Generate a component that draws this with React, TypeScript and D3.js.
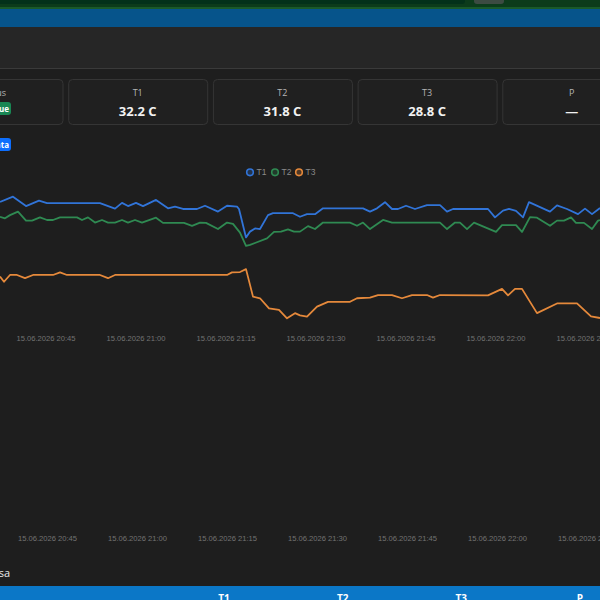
import React from "react";
import * as d3 from "d3";

const DAY = "2026-06-15";
const X_START = "20:37:20";
const X_END = "22:17:20";
const TICK_STEP_MIN = 15;
const Y_DOMAIN = [28.5, 33.1];

const seriesNames = ["T1", "T2", "T3"];
const seriesColors = ["#3174d8", "#2f8a52", "#e5893b"];

const t1Times = ["20:37:20","20:39:30","20:41:40","20:43:50","20:45:10","20:54:00","20:56:30","20:57:40","20:58:40","21:00:00","21:01:10","21:03:20","21:05:20","21:06:30","21:07:50","21:10:10","21:11:30","21:13:40","21:15:10","21:16:50","21:17:10","21:18:20","21:19:00","21:19:50","21:20:40","21:22:00","21:22:50","21:26:10","21:27:20","21:28:30","21:29:50","21:31:10","21:37:50","21:39:00","21:40:10","21:41:30","21:42:40","21:43:40","21:45:00","21:46:30","21:48:30","21:50:40","21:51:50","21:52:50","21:58:40","21:59:50","22:01:10","22:02:10","22:03:20","22:04:30","22:05:30","22:09:00","22:10:10","22:11:50","22:13:40","22:14:50","22:16:00","22:17:20"];
const t1Values = [32.39,32.55,32.26,32.43,32.35,32.35,32.18,32.36,32.26,32.36,32.26,32.45,32.19,32.24,32.17,32.17,32.27,32.09,32.27,32.24,32.17,31.29,31.47,31.57,31.55,31.98,32.04,32.04,31.93,32.01,32.01,32.19,32.19,32.09,32.19,32.38,32.17,32.17,32.27,32.17,32.29,32.29,32.09,32.17,32.17,31.91,32.12,32.17,32.11,31.91,32.38,32.09,32.28,32.17,32.01,32.18,32.01,32.2];

const t2Times = ["20:37:20","20:38:10","20:39:00","20:40:20","20:41:40","20:42:40","20:44:00","20:45:10","20:46:10","20:47:20","20:50:10","20:51:00","20:52:00","20:53:10","20:54:20","20:55:20","20:56:30","20:57:40","20:58:40","20:59:50","21:01:00","21:03:20","21:04:30","21:08:00","21:09:20","21:10:40","21:11:40","21:13:40","21:15:10","21:16:10","21:17:20","21:18:20","21:19:00","21:21:50","21:23:00","21:24:10","21:25:20","21:26:20","21:27:20","21:28:40","21:29:50","21:31:10","21:35:40","21:36:50","21:37:50","21:39:00","21:41:10","21:42:40","21:50:40","21:51:50","21:53:10","21:54:00","21:55:10","21:56:20","22:00:00","22:01:00","22:03:20","22:04:20","22:05:40","22:06:50","22:09:00","22:10:10","22:11:20","22:12:30","22:13:20","22:14:40","22:16:00","22:17:00","22:17:20"];
const t2Values = [31.93,31.88,31.98,32.09,31.81,31.81,31.91,31.83,31.83,31.91,31.91,31.83,31.91,31.75,31.83,31.75,31.75,31.83,31.75,31.83,31.75,31.9,31.74,31.74,31.65,31.75,31.74,31.55,31.75,31.71,31.44,31.03,31.06,31.26,31.46,31.47,31.54,31.47,31.47,31.64,31.55,31.75,31.75,31.65,31.75,31.55,31.83,31.75,31.75,31.55,31.75,31.75,31.55,31.75,31.46,31.67,31.67,31.46,31.92,31.9,31.65,31.81,31.81,31.91,31.74,31.74,31.55,31.81,31.83];

const t3Times = ["20:37:20","20:38:00","20:39:00","20:40:10","20:41:30","20:42:50","20:46:10","20:47:20","20:48:30","20:54:00","20:55:20","20:56:30","21:15:10","21:16:00","21:17:20","21:18:20","21:19:30","21:20:40","21:22:10","21:23:50","21:25:10","21:26:30","21:27:20","21:28:30","21:30:10","21:32:00","21:35:40","21:36:50","21:39:00","21:40:20","21:42:40","21:44:20","21:46:00","21:48:30","21:49:30","21:50:40","21:58:40","22:01:00","22:02:00","22:03:10","22:04:20","22:06:50","22:10:10","22:13:30","22:15:50","22:17:20"];
const t3Values = [30.08,29.92,30.13,30.13,30.03,30.13,30.13,30.21,30.13,30.13,30.03,30.13,30.13,30.21,30.22,30.31,29.46,29.41,29.1,29.05,28.79,28.95,28.88,28.84,29.15,29.3,29.3,29.41,29.43,29.51,29.51,29.41,29.51,29.51,29.43,29.51,29.5,29.7,29.5,29.7,29.7,28.95,29.25,29.25,28.85,28.8];

const cardLabels = ["Status", "T1", "T2", "T3", "P"];
const cardValues = ["", "32.2 C", "31.8 C", "28.8 C", "—"];
const statusBadge = "True";
const dataBadge = "Data";
const sectionTitle = "Kasa";
const tableHeaders = ["T1", "T2", "T3", "P"];

const parse = d3.timeParse("%Y-%m-%d %H:%M:%S");
const toDate = (s: string) => parse(`${DAY} ${s}`) as Date;

const seriesTimes = [t1Times, t2Times, t3Times];
const seriesValues = [t1Values, t2Values, t3Values];

export default function App() {
  const W = 600;
  const H = 600;
  const x = d3.scaleTime().domain([toDate(X_START), toDate(X_END)]).range([0, W]);
  const y = d3.scaleLinear().domain(Y_DOMAIN).range([327.7, 178.9]);
  const ticks = x.ticks(d3.timeMinute.every(TICK_STEP_MIN) as any);
  const fmt = d3.timeFormat("%d.%m.%Y %H:%M");
  const line = d3
    .line<{ t: Date; v: number }>()
    .x((d) => x(d.t))
    .y((d) => y(d.v));

  const series = seriesNames.map((name, i) => ({
    name,
    color: seriesColors[i],
    points: seriesTimes[i].map((t, j) => ({ t: toDate(t), v: seriesValues[i][j] })),
  }));

  const cardX = d3.scaleLinear().domain([0, 1]).range([-76.5, 68.2]);
  const cardW = 139;
  const tableX = d3.scalePoint().domain(tableHeaders).range([224, 580]);
  const legendX = [250, 275, 299];
  const uiFont = "'Open Sans', 'Noto Sans', sans-serif";
  const axisFont = "'Liberation Sans', Arial, sans-serif";

  return (
    <svg
      width={W}
      height={H}
      viewBox={`0 0 ${W} ${H}`}
      style={{ position: "absolute", left: 0, top: 0, display: "block" }}
    >
      <rect x={0} y={0} width={W} height={H} fill="#1e1e1e" />
      {/* top green bar */}
      <rect x={0} y={0} width={W} height={9} fill="#0c3b1b" />
      <rect x={-10} y={-6} width={475} height={10} rx={3} fill="#03311a" />
      <rect x={474} y={-6} width={30} height={10} rx={3} fill="#3c4b42" />
      <rect x={0} y={7} width={W} height={2} fill="#1a5a2a" />
      {/* blue bar */}
      <rect x={0} y={9} width={W} height={18} fill="#06548b" />
      {/* header */}
      <rect x={0} y={27} width={W} height={41} fill="#262626" />
      <rect x={0} y={68} width={W} height={1} fill="#3a3a3a" />

      {/* cards */}
      {cardLabels.map((lab, i) => {
        const cx = cardX(i);
        return (
          <g key={lab}>
            <rect x={cx + 0.5} y={79.5} width={cardW} height={45} rx={4} fill="#202020" stroke="#353535" />
            <text x={cx + cardW / 2} y={96} textAnchor="middle" fill="#b5b5b5" fontSize={9} fontFamily={uiFont}>
              {lab}
            </text>
            {cardValues[i] && (
              <text x={cx + cardW / 2} y={115.5} textAnchor="middle" fill="#f2f2f2" fontSize={13} fontWeight="bold" fontFamily={uiFont}>
                {cardValues[i]}
              </text>
            )}
          </g>
        );
      })}
      {/* status badge */}
      <rect x={-20} y={102} width={31} height={13} rx={3} fill="#198754" />
      <text x={9} y={111.5} textAnchor="end" fill="#fff" fontSize={8} fontWeight="bold" fontFamily={uiFont}>
        {statusBadge}
      </text>
      {/* data badge */}
      <rect x={-20} y={138} width={31} height={13} rx={3} fill="#0d6efd" />
      <text x={9} y={147.5} textAnchor="end" fill="#fff" fontSize={8} fontWeight="bold" fontFamily={uiFont}>
        {dataBadge}
      </text>

      {/* legend */}
      {series.map((s, i) => (
        <g key={s.name}>
          <circle cx={legendX[i]} cy={172.3} r={3.3} fill={s.color} fillOpacity={0.25} stroke={s.color} strokeWidth={1.6} />
          <text x={legendX[i] + 6.5} y={175.3} fill="#8a8a8a" fontSize={8.5} fontFamily={axisFont}>
            {s.name}
          </text>
        </g>
      ))}

      {/* lines */}
      {series.map((s) => (
        <path key={s.name} d={line(s.points) || ""} fill="none" stroke={s.color} strokeWidth={1.8} strokeLinejoin="round" />
      ))}

      {/* x axis labels chart 1 */}
      {ticks.map((t) => (
        <text key={"a" + t.getTime()} x={x(t)} y={340.7} textAnchor="middle" fill="#737373" fontSize={7.6} fontFamily={axisFont}>
          {fmt(t)}
        </text>
      ))}
      {/* x axis labels chart 2 */}
      {ticks.map((t) => (
        <text key={"b" + t.getTime()} x={x(t) + 1.5} y={540.7} textAnchor="middle" fill="#737373" fontSize={7.6} fontFamily={axisFont}>
          {fmt(t)}
        </text>
      ))}

      {/* section title */}
      <text x={10} y={577} textAnchor="end" fill="#eaeaea" fontSize={11} fontFamily={uiFont}>
        {sectionTitle}
      </text>

      {/* table header */}
      <rect x={0} y={586} width={W} height={14} fill="#0b77c7" />
      {tableHeaders.map((h) => (
        <text key={h} x={tableX(h)} y={602} textAnchor="middle" fill="#ffffff" fontSize={10} fontWeight="bold" fontFamily={uiFont}>
          {h}
        </text>
      ))}
    </svg>
  );
}
